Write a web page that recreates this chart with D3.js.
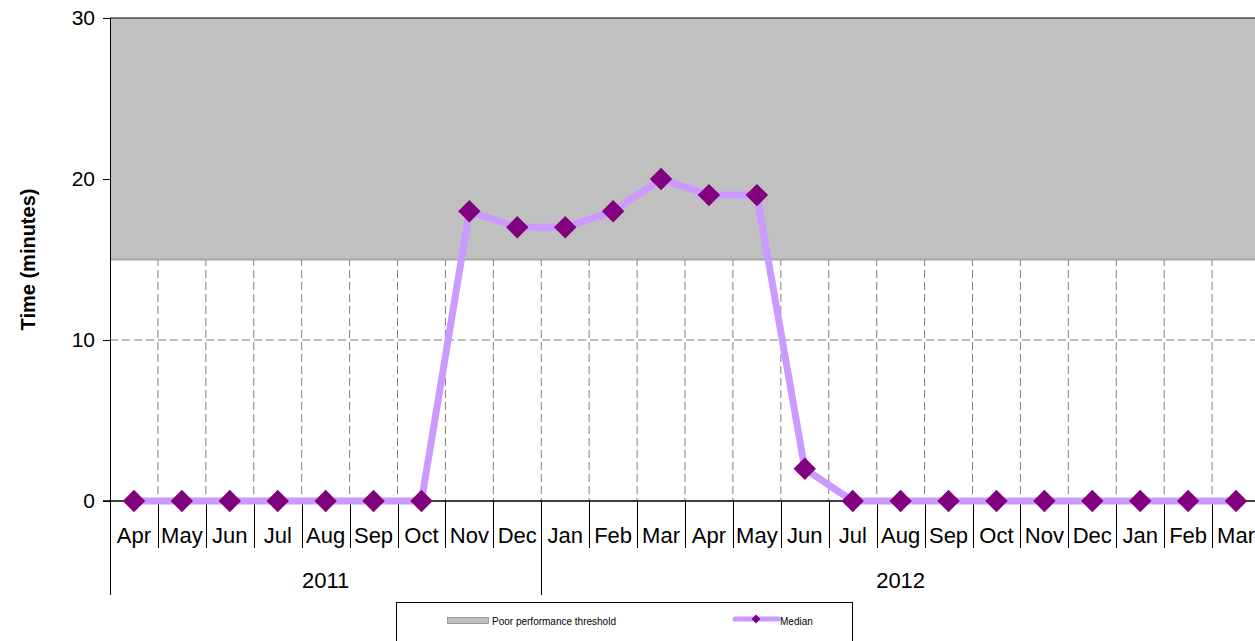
<!DOCTYPE html>
<html>
<head>
<meta charset="utf-8">
<script src="https://cdn.jsdelivr.net/npm/d3@7"></script>
<style>
  body { margin: 0; background: #fff; }
  svg { display: block; font-family: "Liberation Sans", Arial, sans-serif; }
</style>
</head>
<body>
<svg id="chart"></svg>
<script>
// data
const months = ["Apr","May","Jun","Jul","Aug","Sep","Oct","Nov","Dec","Jan","Feb","Mar",
                "Apr","May","Jun","Jul","Aug","Sep","Oct","Nov","Dec","Jan","Feb","Mar"];
const years = ["2011", "2012"];
const yearSpan = [9, 15]; // number of months under each year label
const median = [0,0,0,0,0,0,0,18,17,17,18,20,19,19,2,0,0,0,0,0,0,0,0,0];
const threshold = [15, 30];
const yTicks = [0, 10, 20, 30];

const W = 1255, H = 641;
const margin = { left: 110, top: 18, right: -5, bottom: 140 };

const svg = d3.select("#chart").attr("width", W).attr("height", H);

const keys = months.map((m, i) => i);
const x = d3.scaleBand().domain(keys).range([margin.left, W - margin.right]);
const y = d3.scaleLinear().domain([0, 30]).range([H - margin.bottom, margin.top]);
const bw = x.bandwidth();

const plotBottom = y(0);

// vertical dashed gridlines at band boundaries
svg.append("g").selectAll("line")
  .data(keys.slice(1))
  .join("line")
  .attr("x1", d => x(d)).attr("x2", d => x(d))
  .attr("y1", y(30)).attr("y2", plotBottom)
  .attr("stroke", "#808080").attr("stroke-width", 1)
  .attr("stroke-dasharray", "8,4");

// horizontal dashed gridlines
svg.append("g").selectAll("line")
  .data(yTicks.filter(t => t > 0 && t < 30))
  .join("line")
  .attr("x1", margin.left).attr("x2", W)
  .attr("y1", d => y(d)).attr("y2", d => y(d))
  .attr("stroke", "#808080").attr("stroke-width", 1)
  .attr("stroke-dasharray", "8,4");

// threshold area
svg.append("rect")
  .attr("x", margin.left).attr("y", y(threshold[1]))
  .attr("width", W - margin.left + 10)
  .attr("height", y(threshold[0]) - y(threshold[1]))
  .attr("fill", "#c0c0c0");
svg.append("line")
  .attr("x1", margin.left).attr("x2", W)
  .attr("y1", y(threshold[0])).attr("y2", y(threshold[0]))
  .attr("stroke", "#a6a6a6").attr("stroke-width", 2);

// top border
svg.append("line")
  .attr("x1", margin.left).attr("x2", W)
  .attr("y1", y(30)).attr("y2", y(30))
  .attr("stroke", "#000").attr("stroke-width", 1);

// y axis
const yAxis = svg.append("g")
  .attr("transform", `translate(${margin.left},0)`)
  .call(d3.axisLeft(y).tickValues(yTicks).tickSize(7).tickPadding(8));
yAxis.select(".domain").attr("stroke", "#000");
yAxis.selectAll("text").attr("font-size", 21).attr("fill", "#000")
  .attr("font-family", "Liberation Sans, Arial, sans-serif");

svg.append("text")
  .attr("transform", `translate(35,${(y(30) + plotBottom) / 2}) rotate(-90)`)
  .attr("text-anchor", "middle")
  .attr("font-size", 20).attr("font-weight", "bold")
  .text("Time (minutes)");

// x axis line
svg.append("line")
  .attr("x1", margin.left - 7).attr("x2", W)
  .attr("y1", plotBottom).attr("y2", plotBottom)
  .attr("stroke", "#000").attr("stroke-width", 1.5);

// month separators
const sepX = keys.map(k => x(k)).concat([x(keys[keys.length - 1]) + bw]);
const yearBounds = [0];
yearSpan.forEach(s => yearBounds.push(yearBounds[yearBounds.length - 1] + s));
svg.append("g").selectAll("line")
  .data(sepX.map((v, i) => ({ v, i })))
  .join("line")
  .attr("x1", d => Math.round(d.v) + 0.5).attr("x2", d => Math.round(d.v) + 0.5)
  .attr("y1", plotBottom)
  .attr("y2", d => yearBounds.includes(d.i) ? 595 : 548)
  .attr("stroke", "#000").attr("stroke-width", 1);

// month labels
svg.append("g").selectAll("text")
  .data(months)
  .join("text")
  .attr("x", (d, i) => x(i) + bw / 2)
  .attr("y", 543)
  .attr("text-anchor", "middle")
  .attr("font-size", 22)
  .text(d => d);

// year labels
svg.append("g").selectAll("text")
  .data(years)
  .join("text")
  .attr("x", (d, i) => (x(yearBounds[i]) + (yearBounds[i + 1] < keys.length ? x(yearBounds[i + 1]) : x(keys.length - 1) + bw)) / 2)
  .attr("y", 588)
  .attr("text-anchor", "middle")
  .attr("font-size", 22)
  .text(d => d);

// median line
const line = d3.line().x((d, i) => x(i) + bw / 2).y(d => y(d));
svg.append("path")
  .datum(median)
  .attr("d", line)
  .attr("fill", "none")
  .attr("stroke", "#cc99ff")
  .attr("stroke-width", 7)
  .attr("stroke-linejoin", "round");

const diamond = d3.symbol().type(d3.symbolDiamond2).size(320);
svg.append("g").selectAll("path")
  .data(median)
  .join("path")
  .attr("transform", (d, i) => `translate(${x(i) + bw / 2},${y(d)})`)
  .attr("d", diamond)
  .attr("fill", "#800080");

// legend
const lg = svg.append("g");
lg.append("rect")
  .attr("x", 396.5).attr("y", 602.5).attr("width", 456).attr("height", 45)
  .attr("fill", "#fff").attr("stroke", "#000").attr("stroke-width", 1);
lg.append("rect")
  .attr("x", 447.5).attr("y", 617.5).attr("width", 41).attr("height", 6)
  .attr("fill", "#c0c0c0").attr("stroke", "#808080").attr("stroke-width", 0.7);
lg.append("text")
  .attr("x", 492).attr("y", 625).attr("font-size", 10)
  .text("Poor performance threshold");
lg.append("line")
  .attr("x1", 735).attr("x2", 778).attr("y1", 619).attr("y2", 619)
  .attr("stroke", "#cc99ff").attr("stroke-width", 5).attr("stroke-linecap", "round");
lg.append("path")
  .attr("transform", "translate(756,619)")
  .attr("d", d3.symbol().type(d3.symbolDiamond2).size(50))
  .attr("fill", "#800080");
lg.append("text")
  .attr("x", 780).attr("y", 625).attr("font-size", 10)
  .text("Median");
</script>
</body>
</html>
